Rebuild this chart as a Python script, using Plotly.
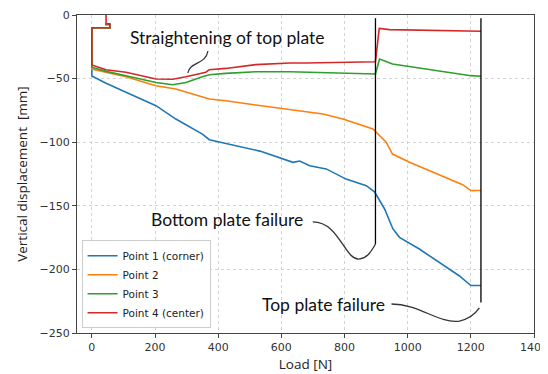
import plotly.graph_objects as go

# ---------------- data ----------------
p1_load = [42, 57, 57, 0, 0, 45, 108, 203, 266, 350, 372, 447, 532, 637, 658, 690, 742, 805, 869, 895, 927, 953, 974, 1037, 1100, 1163, 1200, 1232]
p1_disp = [-7.5, -7.5, -10, -10, -48, -53.7, -60.8, -71.3, -81.8, -93.6, -98, -102.5, -107, -115.8, -114.8, -118.5, -121, -129, -134.2, -139, -152.5, -168, -174.8, -184, -194.4, -205, -212.7, -212.7]

p2_load = [42, 57, 57, 0, 0, 45, 108, 203, 266, 372, 424, 519, 627, 677, 732, 795, 890, 932, 952, 1006, 1069, 1132, 1174, 1200, 1232]
p2_disp = [-7.5, -7.5, -10, -10, -42.5, -45, -48.5, -55.6, -58.2, -66, -67.4, -70.8, -74.4, -76.5, -77.8, -81.8, -89.6, -100, -109.3, -115.8, -122.4, -129, -133.4, -138, -138]

p3_load = [42, 57, 57, 0, 0, 45, 108, 203, 256, 298, 350, 372, 424, 519, 627, 677, 890, 898, 911, 952, 1047, 1132, 1200, 1232]
p3_disp = [-7.5, -7.5, -10, -10, -41, -44.3, -47.7, -53, -54.8, -53, -48.5, -47, -45.9, -44.6, -44.6, -45, -46.4, -46.4, -34.6, -38.5, -42, -45, -47.7, -48.2]

p4_load = [45, 45, 57, 57, 0, 0, 45, 108, 203, 256, 298, 361, 372, 424, 519, 627, 677, 890, 898, 910, 943, 1232]
p4_disp = [2, -7, -7, -10, -10, -39.3, -43, -45, -50.3, -50.5, -48.5, -45, -43, -42, -39, -37.7, -37.7, -36.7, -36.7, -10.5, -11.5, -12.8]

series_names = ["Point 1 (corner)", "Point 2", "Point 3", "Point 4 (center)"]
series_colors = ["#1f77b4", "#ff7f0e", "#2ca02c", "#d62728"]

failure_loads = [898, 1232]
failure_tops = [-2.5, -2.5]
failure_bottoms = [-180, -226]

x_ticks = [0, 200, 400, 600, 800, 1000, 1200, 1400]
y_ticks = [0, -50, -100, -150, -200, -250]

ann_texts = ["Straightening of top plate", "Bottom plate failure", "Top plate failure"]
ann_x = [429, 429, 733]
ann_y = [-17.3, -160.4, -227.2]

# ---------------- figure ----------------
fig = go.Figure()
for lx, ly, name, col in zip([p1_load, p2_load, p3_load, p4_load],
                             [p1_disp, p2_disp, p3_disp, p4_disp],
                             series_names, series_colors):
    fig.add_trace(go.Scatter(x=lx, y=ly, mode="lines", name=name,
                             line=dict(color=col, width=1.6)))

for fx, ft, fb in zip(failure_loads, failure_tops, failure_bottoms):
    fig.add_trace(go.Scatter(x=[fx, fx], y=[ft, fb], mode="lines", showlegend=False,
                             line=dict(color="black", width=1.3), hoverinfo="skip"))

connector_paths = [
    "M 304,-45.6 C 310.6,-36.2 361,-39.3 367.5,-28.3",
    "M 699.4,-162.7 C 784.7,-162.7 800.5,-193.4 848,-191.8 C 873,-191 885.6,-185.5 898.3,-180",
    "M 948.8,-227.2 C 1037,-227.2 1100,-243 1163.6,-240.6 C 1195,-239 1214,-235 1227,-230.3",
]
for p in connector_paths:
    fig.add_shape(type="path", path=p, xref="x", yref="y",
                  line=dict(color="#333333", width=1.3))

for t, ax_, ay_ in zip(ann_texts, ann_x, ann_y):
    fig.add_annotation(x=ax_, y=ay_, text=t, showarrow=False, xref="x", yref="y",
                       xanchor="center", yanchor="middle",
                       font=dict(family="Lato, Open Sans, sans-serif", size=17.5, color="#111111"))

axis_common = dict(showline=True, mirror=True, linecolor="#444444", linewidth=1,
                   ticks="outside", ticklen=4, tickcolor="#444444",
                   showgrid=True, gridcolor="#d3d3d3", griddash="dot", gridwidth=0.8,
                   zeroline=False, automargin=False,
                   tickfont=dict(family="DejaVu Sans", size=11, color="#333333"))

fig.update_xaxes(range=[-47, 1400], tickvals=x_ticks,
                 title=dict(text="Load [N]", font=dict(family="Open Sans", size=13.5, color="#222222"),
                            standoff=6),
                 **axis_common)
fig.update_yaxes(range=[-250, 0], tickvals=y_ticks,
                 title=dict(text="Vertical displacement  [mm]",
                            font=dict(family="Open Sans", size=13.5, color="#222222"), standoff=8),
                 **axis_common)

# the page body adds an 8px offset, so the figure is 8px smaller than the window
fig.update_layout(
    width=540, height=366,
    margin=dict(l=69, r=14, t=7, b=41),
    paper_bgcolor="white", plot_bgcolor="white",
    legend=dict(x=0.01, y=0.015, xanchor="left", yanchor="bottom",
                bgcolor="rgba(255,255,255,0.85)", bordercolor="#cccccc", borderwidth=1,
                font=dict(family="DejaVu Sans", size=10.5, color="#222222"),
                tracegroupgap=0, itemwidth=30),
    showlegend=True,
)

fig.write_html("out.html")
